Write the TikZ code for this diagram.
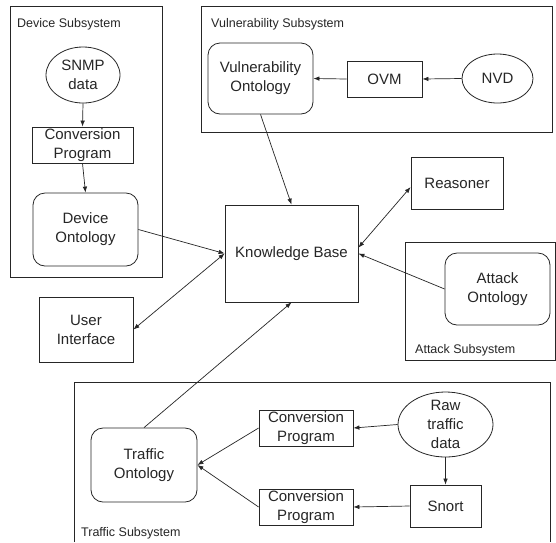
\documentclass[tikz,border=0pt]{standalone}
\usepackage{fontspec}
\setmainfont{Liberation Sans}
\usetikzlibrary{arrows.meta,shapes.geometric}
\begin{document}
\begin{tikzpicture}[x=1pt,y=-1pt,
  every node/.style={font=\fontsize{15}{19}\selectfont, align=center, inner sep=0pt, text=black!85},
  box/.style={draw=black!85, line width=0.8pt, rectangle},
  rbox/.style={draw=black!85, line width=0.8pt, rectangle, rounded corners=12pt},
  oval/.style={draw=black!85, line width=0.8pt, ellipse},
  sub/.style={draw=black!85, line width=0.8pt},
  sublabel/.style={font=\fontsize{12.5}{15}\selectfont, anchor=base west},
  tip/.style={},
  conn/.style={draw=black!85, line width=0.7pt, -{Latex[length=6pt,width=4.5pt]}},
  biconn/.style={draw=black!85, line width=0.7pt, {Latex[length=6pt,width=4.5pt]}-{Latex[length=6pt,width=4.5pt]}},
  plainline/.style={draw=black!85, line width=0.7pt}
]
\useasboundingbox (0,0) rectangle (556,542);
\fill[white] (0,0) rectangle (556,542);

% subsystem frames
\draw[sub] (10,6) rectangle (162,277);
\node[sublabel] (devlbl) at (17,27) {Device Subsystem};
\draw[sub] (201,6) rectangle (552,132);
\node[sublabel] (vullbl) at (211,27) {Vulnerability Subsystem};
\draw[sub] (405,242) rectangle (555.4,360);
\node[sublabel] (attlbl) at (415,353) {Attack Subsystem};
\draw[sub] (74,542) -- (74,382) -- (550,382) -- (550,542);
\node[sublabel] (trflbl) at (81,536) {Traffic Subsystem};

% device subsystem
\node[oval, minimum width=74pt, minimum height=56pt, label={center:SNMP\\data}] (snmp) at (83,75) {};
\node[box, minimum width=101pt, minimum height=36pt] (cp1) at (82.5,145) {Conversion\\Program};
\node[rbox, minimum width=105pt, minimum height=73pt] (devonto) at (85.5,229.5) {Device\\Ontology};

% vulnerability subsystem
\node[rbox, minimum width=105pt, minimum height=71pt] (vo) at (260.5,78.5) {Vulnerability\\Ontology};
\node[box, minimum width=75pt, minimum height=36pt] (ovm) at (384.5,79) {OVM};
\node[oval, minimum width=71pt, minimum height=49pt, label={center:NVD}] (nvd) at (497.5,78.5) {};

% centre
\node[box, minimum width=133pt, minimum height=97pt] (kb) at (291.5,253.5) {Knowledge Base};
\node[box, minimum width=92pt, minimum height=52pt] (reasoner) at (457,183) {Reasoner};
\node[box, minimum width=94pt, minimum height=65pt] (ui) at (86,329.5) {User\\Interface};

% attack subsystem
\node[rbox, minimum width=105pt, minimum height=72pt] (ao) at (497.5,289) {Attack\\Ontology};

% traffic subsystem
\node[rbox, minimum width=106pt, minimum height=74pt] (to) at (144,465) {Traffic\\Ontology};
\node[box, minimum width=94pt, minimum height=36pt] (cp2) at (306,428) {Conversion\\Program};
\node[box, minimum width=94pt, minimum height=36pt] (cp3) at (306,507) {Conversion\\Program};
\node[oval, minimum width=95pt, minimum height=65pt, label={center:Raw\\traffic\\data}] (raw) at (445.5,424.5) {};
\node[box, minimum width=71pt, minimum height=42pt] (snort) at (445.5,506) {Snort};

% connectors
\draw[conn] (snmp.south) -- (cp1.north);
\draw[conn] (cp1.south) -- (devonto.north);
\draw[conn] (devonto.east) -- (kb.west);
\draw[biconn] (ui.east) -- (kb.west);
\draw[conn] (nvd.west) -- (ovm.east);
\draw[conn] (ovm.west) -- (vo.east);
\draw[conn] (vo.south) -- (kb.north);
\draw[biconn] (kb.5) -- (reasoner.185);
\draw[conn] (ao.west) -- (kb.east);
\draw[conn] (to.north) -- (kb.south);
\draw[conn] (raw.west) -- (cp2.east);
\draw[conn] (raw.south) -- (snort.north);
\draw[conn] (snort.west) -- (cp3.east);
\draw[conn] (cp2.west) -- (to.east);
\draw[conn] (cp3.west) -- (to.east);
\end{tikzpicture}
\end{document}
